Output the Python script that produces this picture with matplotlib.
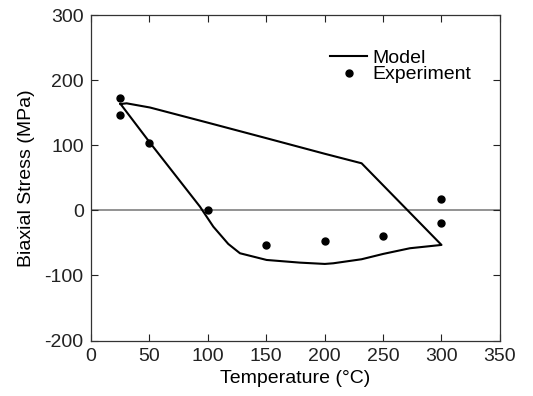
import matplotlib.pyplot as plt

# model loop: heating (top branch) then cooling (bottom branch)
model_T = [25.6, 30.8, 50.7, 100, 150, 200, 231.7, 300,
           290, 273, 250.2, 231.7, 207.5, 200.3, 179, 150.5, 127.7, 117.7, 104.9, 93.5, 50.7, 25.6]
model_S = [163.4, 164.4, 158, 134.8, 111, 87, 72.3, -53.1,
           -55, -58.2, -66.9, -75.1, -81.3, -82.3, -80.3, -76.2, -65.9, -51.6, -25, 5.7, 104, 163.4]

exp_T = [25, 25, 50, 100, 150, 200, 250, 300, 300]
exp_S = [173, 146.5, 103, 0.6, -53.6, -46.5, -39.3, 17, -18.8]

xticks = [0, 50, 100, 150, 200, 250, 300, 350]
yticks = [-200, -100, 0, 100, 200, 300]

plt.rcParams['font.family'] = ['Liberation Sans', 'DejaVu Sans']
plt.rcParams['axes.unicode_minus'] = False

fig = plt.figure(figsize=(5.33, 3.96), dpi=100)
ax = fig.add_axes([0.170, 0.140, 0.768, 0.822])

ax.axhline(0, color='#808080', lw=1.2, zorder=1)
ax.plot(model_T, model_S, color='black', lw=1.5, label='Model', zorder=2)
ax.plot(exp_T, exp_S, 'o', color='black', ms=5, label='Experiment', zorder=3)

ax.set_xlim(0, 350)
ax.set_ylim(-200, 300)
ax.set_xticks(xticks)
ax.set_yticks(yticks)
ax.tick_params(direction='in', length=5, width=0.8, top=True, right=True,
               labelsize=14, colors='#222222', pad=5)
for s in ax.spines.values():
    s.set_linewidth(0.9)
    s.set_color('#333333')

ax.set_xlabel('Temperature (°C)', fontsize=14, labelpad=4)
ax.set_ylabel('Biaxial Stress (MPa)', fontsize=14, labelpad=7)

ax.legend(loc='upper left', bbox_to_anchor=(0.585, 0.895), frameon=False,
          fontsize=14, borderpad=0, borderaxespad=0, handlelength=1.9,
          handletextpad=0.25, labelspacing=-0.05, numpoints=1)

fig.savefig('out.png', dpi=100)
